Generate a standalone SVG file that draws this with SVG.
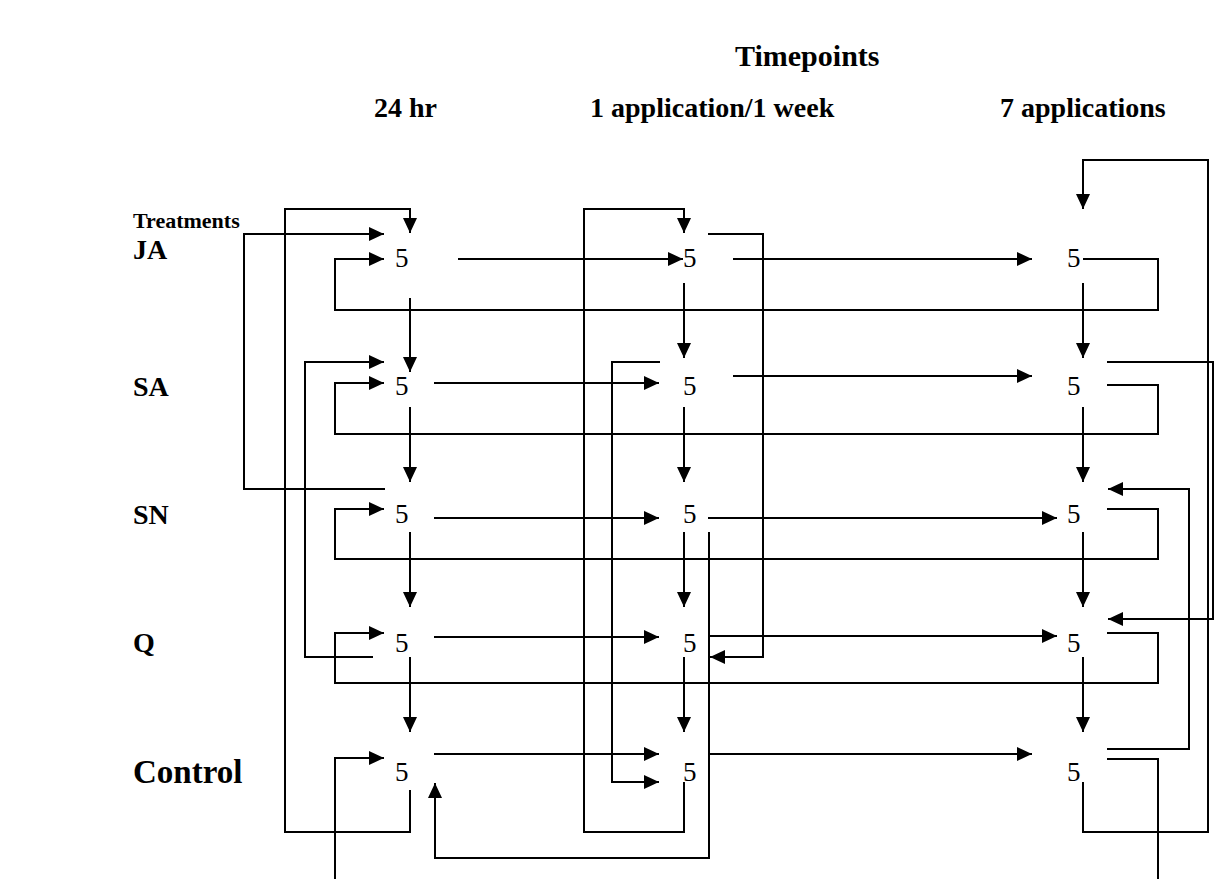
<svg xmlns="http://www.w3.org/2000/svg" width="1214" height="879" viewBox="0 0 1214 879">
<style>
.h{font-family:"Liberation Serif","Times New Roman",serif;font-weight:bold;fill:#000}
.n{font-family:"Liberation Serif","Times New Roman",serif;font-size:27px;fill:#000}
.c path{fill:none;stroke:#000;stroke-width:2}
.a{marker-end:url(#ah)}
</style>
<defs>
<marker id="ah" markerUnits="userSpaceOnUse" markerWidth="15" markerHeight="14" refX="15" refY="7" orient="auto"><path d="M0,0 L15,7 L0,14 z" fill="#000"/></marker>
</defs>
<rect width="1214" height="879" fill="#fff"/>
<g id="titles">
<text class="h" x="735" y="66" font-size="30">Timepoints</text>
<text class="h" x="374" y="117" font-size="28">24 hr</text>
<text class="h" x="590" y="117" font-size="28">1 application/1 week</text>
<text class="h" x="1000" y="117" font-size="28">7 applications</text>
</g>
<g id="treatments">
<text class="h" x="133" y="228" font-size="22">Treatments</text>
<text class="h" x="133" y="259" font-size="28">JA</text>
<text class="h" x="133" y="396" font-size="28">SA</text>
<text class="h" x="133" y="524" font-size="28">SN</text>
<text class="h" x="133" y="652" font-size="28">Q</text>
<text class="h" x="133" y="783" font-size="33">Control</text>
</g>
<g id="JA-24"><text class="n" x="395" y="267">5</text></g>
<g id="JA-1w"><text class="n" x="683" y="267">5</text></g>
<g id="JA-7"><text class="n" x="1067" y="267">5</text></g>
<g id="SA-24"><text class="n" x="395" y="395">5</text></g>
<g id="SA-1w"><text class="n" x="683" y="395">5</text></g>
<g id="SA-7"><text class="n" x="1067" y="395">5</text></g>
<g id="SN-24"><text class="n" x="395" y="523">5</text></g>
<g id="SN-1w"><text class="n" x="683" y="523">5</text></g>
<g id="SN-7"><text class="n" x="1067" y="523">5</text></g>
<g id="Q-24"><text class="n" x="395" y="652">5</text></g>
<g id="Q-1w"><text class="n" x="683" y="652">5</text></g>
<g id="Q-7"><text class="n" x="1067" y="652">5</text></g>
<g id="C-24"><text class="n" x="395" y="781">5</text></g>
<g id="C-1w"><text class="n" x="683" y="781">5</text></g>
<g id="C-7"><text class="n" x="1067" y="781">5</text></g>
<g id="connectors" class="c">
<path class="a" d="M458,259 H683"/>
<path class="a" d="M733,259 H1032"/>
<path class="a" d="M1083,259 H1158 V310 H335 V259 H384"/>
<path class="a" d="M385,489 H244 V234 H384"/>
<path class="a" d="M410,790 V832 H285 V209 H410 V233"/>
<path class="a" d="M684,782 V832 H584 V209 H684 V233"/>
<path class="a" d="M708,234 H763 V657 H710"/>
<path class="a" d="M1083,782 V832 H1208 V160 H1083 V209"/>
<path class="a" d="M410,298 V372"/>
<path class="a" d="M684,283 V358"/>
<path class="a" d="M1083,283 V358"/>
<path class="a" d="M410,407 V482"/>
<path class="a" d="M684,407 V482"/>
<path class="a" d="M1083,407 V482"/>
<path class="a" d="M410,532 V607"/>
<path class="a" d="M684,532 V607"/>
<path class="a" d="M1083,532 V607"/>
<path class="a" d="M410,657 V732"/>
<path class="a" d="M684,657 V732"/>
<path class="a" d="M1083,657 V732"/>
<path class="a" d="M373,657 H305 V362 H384"/>
<path class="a" d="M1107,385 H1158 V434 H335 V383 H384"/>
<path class="a" d="M434,383 H659"/>
<path class="a" d="M660,362 H612 V782 H659"/>
<path class="a" d="M733,376 H1032"/>
<path class="a" d="M1107,362 H1213 V619 H1108"/>
<path class="a" d="M1107,509 H1158 V559 H335 V509 H384"/>
<path class="a" d="M434,518 H659"/>
<path class="a" d="M708,518 H1057"/>
<path class="a" d="M709,532 V858 H435 V783"/>
<path class="a" d="M1107,749 H1189 V489 H1108"/>
<path class="a" d="M1107,633 H1158 V683 H335 V633 H384"/>
<path class="a" d="M434,637 H659"/>
<path class="a" d="M709,636 H1057"/>
<path class="a" d="M335,879 V758 H384"/>
<path class="a" d="M434,754 H659"/>
<path class="a" d="M709,754 H1032"/>
<path d="M1107,759 H1158 V879"/>
</g>
</svg>
